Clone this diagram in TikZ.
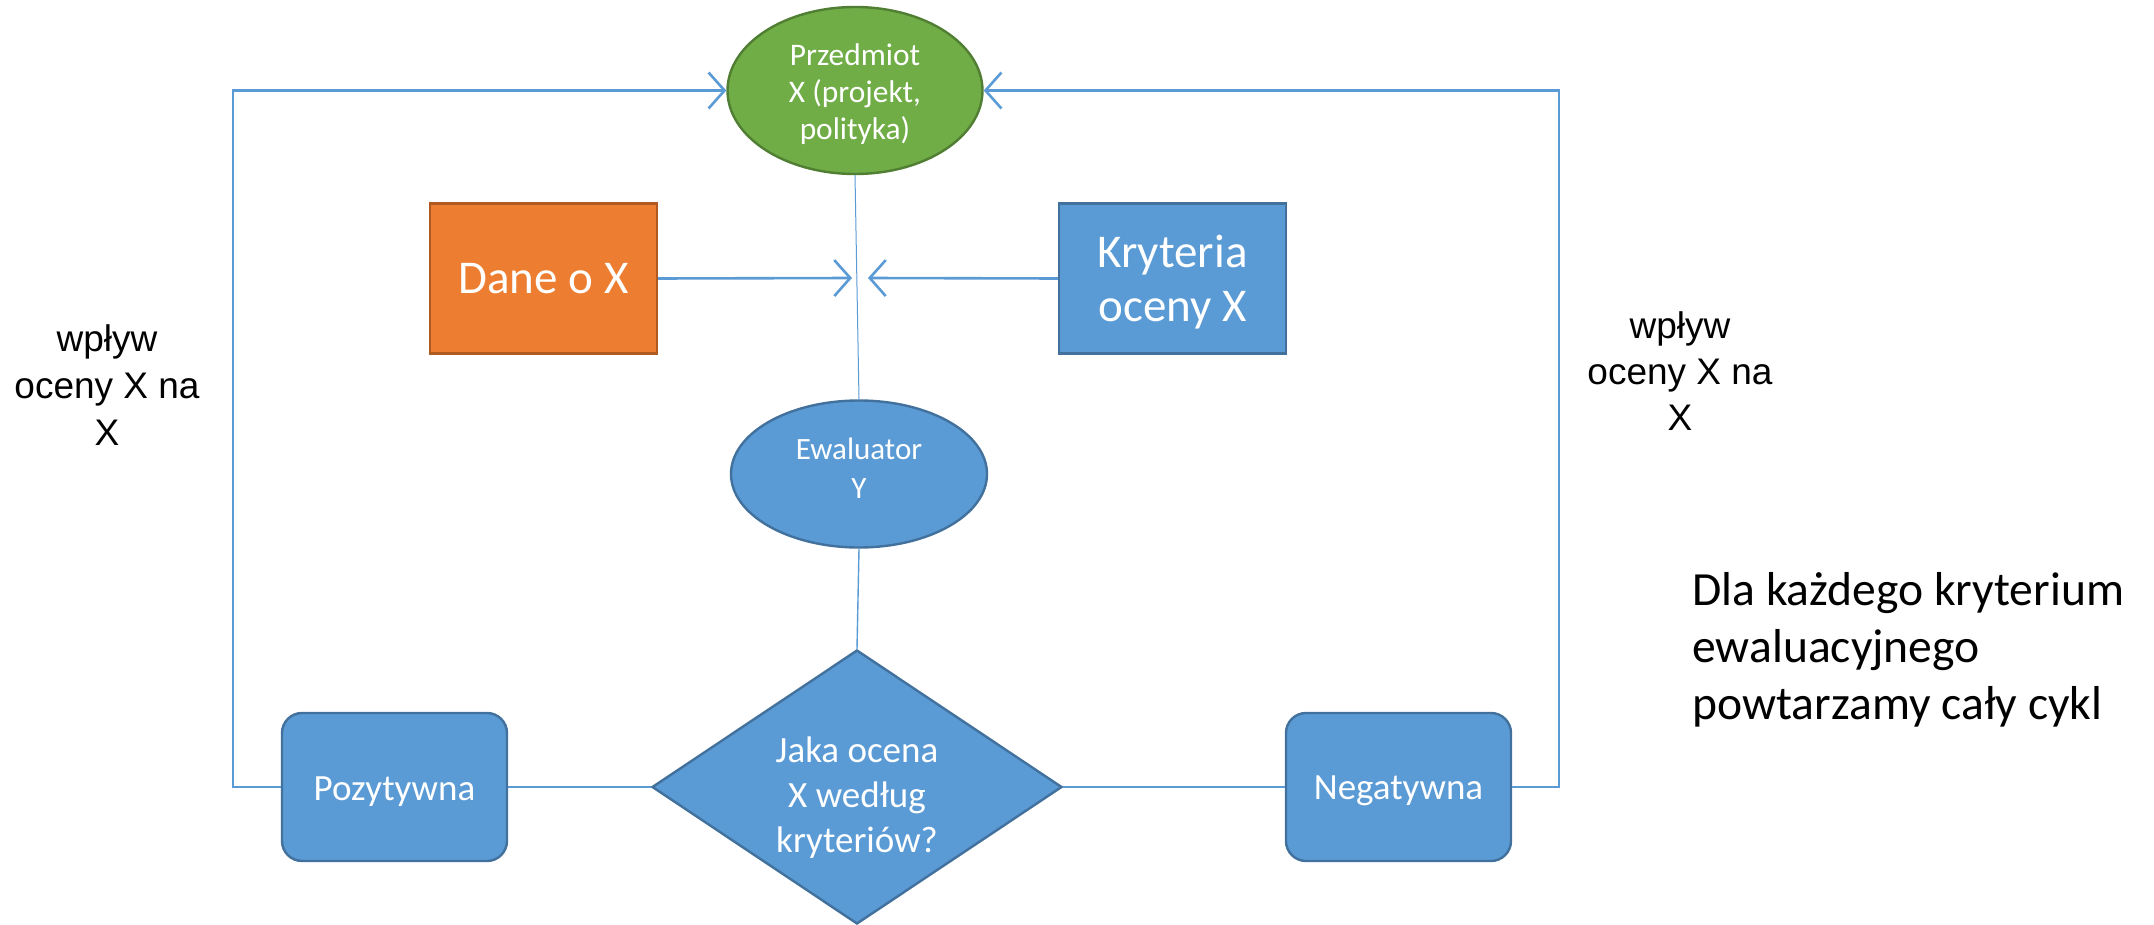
\documentclass[tikz,border=0pt]{standalone}
\usepackage{fontspec}
\setmainfont{Carlito}
\newfontfamily\arialf{Liberation Sans}
\usetikzlibrary{shapes.geometric,arrows.meta}
\definecolor{myblue}{HTML}{5B9BD5}
\definecolor{myblueb}{HTML}{41719C}
\definecolor{mygreen}{HTML}{70AD47}
\definecolor{mygreenb}{HTML}{507E32}
\definecolor{myorange}{HTML}{ED7D31}
\definecolor{myorangeb}{HTML}{AE5A21}
\tikzset{
  shapebase/.style={draw, line width=1.2pt, text=white, align=center, inner sep=0pt},
  bluebox/.style={shapebase, fill=myblue, draw=myblueb},
  conn/.style={draw=myblue, line width=1.3pt},
  thinconn/.style={draw=myblue, line width=0.7pt},
  arr/.style={conn, -{Straight Barb[length=8pt,width=18pt,line width=1.3pt]}},
}
\begin{document}
\begin{tikzpicture}[x=0.5pt,y=-0.5pt]
\useasboundingbox (0,0) rectangle (2154,925);

\node[shapebase, ellipse, fill=mygreen, draw=mygreenb, minimum width=127.5pt, minimum height=83.5pt,
  font=\fontsize{15.7pt}{18.5pt}\selectfont] (subj) at (855,90.5) {\rule{0pt}{15pt}Przedmiot\\X (projekt,\\polityka)};

\node[shapebase, rectangle, fill=myorange, draw=myorangeb, minimum width=113.5pt, minimum height=75pt,
  font=\fontsize{23.5pt}{26pt}\selectfont] (dane) at (543.5,278.5) {Dane o X};

\node[bluebox, rectangle, minimum width=113.5pt, minimum height=75pt,
  font=\fontsize{23.5pt}{27pt}\selectfont] (kryt) at (1172.5,278.5) {\rule{0pt}{20pt}Kryteria\\oceny X};

\node[bluebox, ellipse, minimum width=128pt, minimum height=73.5pt,
  font=\fontsize{15.5pt}{19.5pt}\selectfont] (ewal) at (859,474) {Ewaluator\\Y\rule[-6pt]{0pt}{6pt}};

\node[bluebox, diamond, aspect=1.5, minimum width=205pt, minimum height=137pt,
  font=\fontsize{18.5pt}{22.5pt}\selectfont] (dia) at (857,787) {\rule{0pt}{23pt}Jaka ocena\\X według\\kryteriów?};

\node[bluebox, rectangle, rounded corners=10pt, minimum width=112.5pt, minimum height=74pt,
  font=\fontsize{18.5pt}{22pt}\selectfont] (poz) at (394.5,787) {\rule{0pt}{16pt}Pozytywna};

\node[bluebox, rectangle, rounded corners=10pt, minimum width=112.5pt, minimum height=74pt,
  font=\fontsize{18.5pt}{22pt}\selectfont] (neg) at (1398.5,787) {\rule{0pt}{16pt}Negatywna};

\node[align=center, inner sep=0pt, font=\arialf\fontsize{18.5pt}{23.5pt}\selectfont] (lefttxt) at (107,385) {wpływ\\oceny X na\\X};
\node[align=center, inner sep=0pt, font=\arialf\fontsize{18.5pt}{23pt}\selectfont] (righttxt) at (1680,371) {wpływ\\oceny X na\\X};

\node[align=left, anchor=west, inner sep=0pt, font=\fontsize{23.8pt}{28.5pt}\selectfont] (note) at (1692,650)
  {Dla każdego kryterium\\ewaluacyjnego\\powtarzamy cały cykl};

\coordinate (lc) at (233,787);
\coordinate (rc) at (1559,787);
\coordinate (m1) at (852,278);
\coordinate (m2) at (868,278);

\draw[arr] (poz.west) -- (lc) |- (subj.west);
\draw[arr] (neg.east) -- (rc) |- (subj.east);
\draw[thinconn, line width=0.5pt] (subj.south) -- (ewal.north);
\draw[arr] (dane.east) -- (m1);
\draw[arr] (kryt.west) -- (m2);
\draw[thinconn] (ewal.south) -- (dia.north);
\draw[thinconn, line width=0.9pt] (poz.east) -- (dia.west);
\draw[thinconn, line width=0.9pt] (dia.east) -- (neg.west);
\end{tikzpicture}
\end{document}
